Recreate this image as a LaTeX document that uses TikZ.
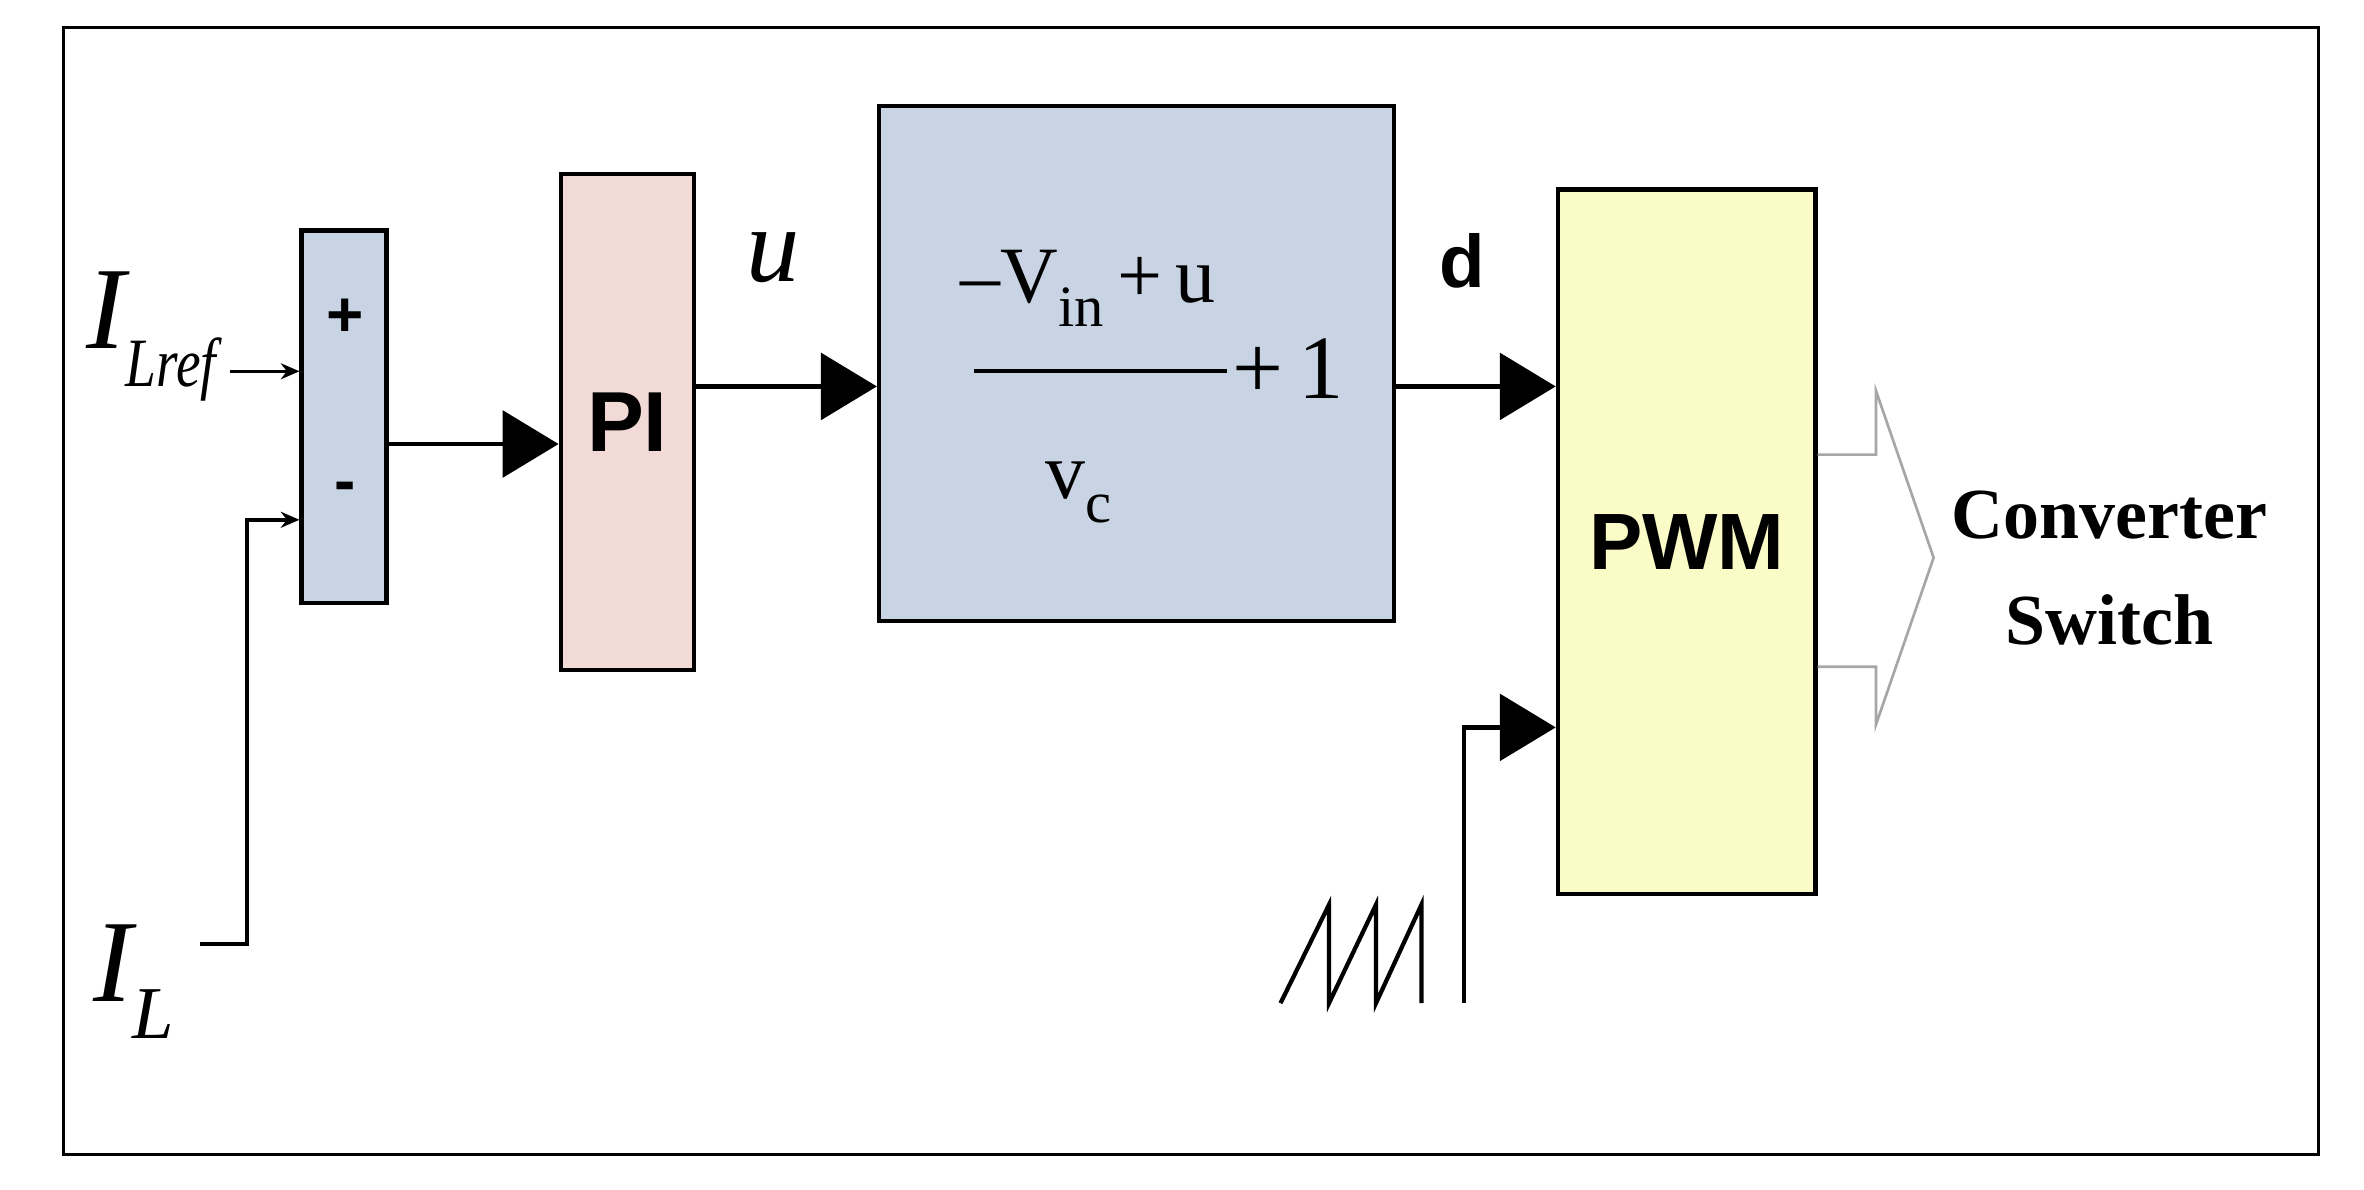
\documentclass[tikz,border=0pt]{standalone}
\usepackage{fontspec}
\usetikzlibrary{arrows.meta}
\newfontfamily\sans{Liberation Sans}
\newfontfamily\tnr{Liberation Serif}
\tikzset{
  blk/.style = {draw, line width=1.6pt, inner sep=0pt},
  big/.style = {line width=1.6pt, -{Triangle[length=21pt,width=25pt]}},
  small/.style = {line width=1.3pt, -{Stealth[length=7pt,width=6pt]}},
  txt/.style = {inner sep=0pt},
}
\begin{document}
\begin{tikzpicture}[x=0.02cm,y=-0.02cm]
\useasboundingbox (0,0) rectangle (1560,785);
\draw[line width=1.2pt] (42,18) rectangle (1530,762);
% blocks
\node[blk, fill={rgb,255:red,200;green,212;blue,228}, minimum width=1.12cm, minimum height=4.92cm] (sum) at (227,275) {};
\node[blk, fill={rgb,255:red,242;green,218;blue,214}, minimum width=1.76cm, minimum height=6.54cm, font=\sans\bfseries\fontsize{32}{32}\selectfont] (pi) at (414,278.5) {PI};
\node[blk, fill={rgb,255:red,200;green,212;blue,228}, minimum width=6.8cm, minimum height=6.8cm] (gain) at (750,240) {};
\node[blk, fill={rgb,255:red,251;green,251;blue,200}, minimum width=3.4cm, minimum height=9.3cm, font=\sans\bfseries\fontsize{30}{30}\selectfont] (pwm) at (1113,357.5) {PWM};
\node[txt, font=\sans\bfseries\fontsize{24}{24}\selectfont] (plus) at (228,210) {+};
\node[txt, font=\sans\bfseries\fontsize{24}{24}\selectfont] (minus) at (228,325) {-};
% labels
\node[txt, font=\tnr\itshape\fontsize{44}{44}\selectfont] (iref) at (100,222) {I\raisebox{-14pt}{\fontsize{26}{26}\selectfont\addfontfeature{FakeStretch=0.8}Lref}};
\node[txt, font=\tnr\itshape\fontsize{44}{44}\selectfont] (il) at (88,648) {I\raisebox{-14pt}{\fontsize{28}{28}\selectfont L}};
\node[txt, font=\tnr\itshape\fontsize{40}{40}\selectfont] (u) at (510,170) {u};
\node[txt, font=\sans\bfseries\fontsize{28}{28}\selectfont] (d) at (965,172) {d};
\node[txt, font=\tnr\fontsize{30}{30}\selectfont] (num) at (718,190) {{–}V\raisebox{-9pt}{\fontsize{22}{22}\selectfont in}\,+\,u};
\node[txt, font=\tnr\fontsize{30}{30}\selectfont] (den) at (712,325) {v\raisebox{-9pt}{\fontsize{22}{22}\selectfont c}};
\node[txt, font=\tnr\fontsize{34}{34}\selectfont] (one) at (850,243) {+\,1};
\draw[line width=1.6pt] (643,245) -- (810,245);
\node[txt, align=center, font=\tnr\bfseries\fontsize{27}{40}\selectfont] (conv) at (1392,375) {Converter\\Switch};
% connectors
\coordinate (a1) at (152,245);
\coordinate (a2) at (132,623);
\coordinate (a3) at (966,662);
\draw[small] (a1) -- (sum.west |- a1);
\draw[small] (a2) -- (163,623) -- (163,343) -- (sum.west |- 0,343);
\draw[big] (sum.east |- 0,293) -- (pi.west |- 0,293);
\draw[big] (pi.east |- 0,255) -- (gain.west |- 0,255);
\draw[big] (gain.east |- 0,255) -- (pwm.west |- 0,255);
\draw[big] (a3) -- (966,480) -- (pwm.west |- 0,480);
% sawtooth
\draw[line width=1.6pt] (845,662) -- (877,597) -- (877,662) -- (908,597) -- (908,662) -- (938,597) -- (938,662);
% hollow output arrow
\draw[line width=1pt, draw=gray!70] (pwm.east |- 0,300) -- (1238,300) -- (1238,258) -- (1276,368) -- (1238,478) -- (1238,440) -- (pwm.east |- 0,440);
\end{tikzpicture}
\end{document}
